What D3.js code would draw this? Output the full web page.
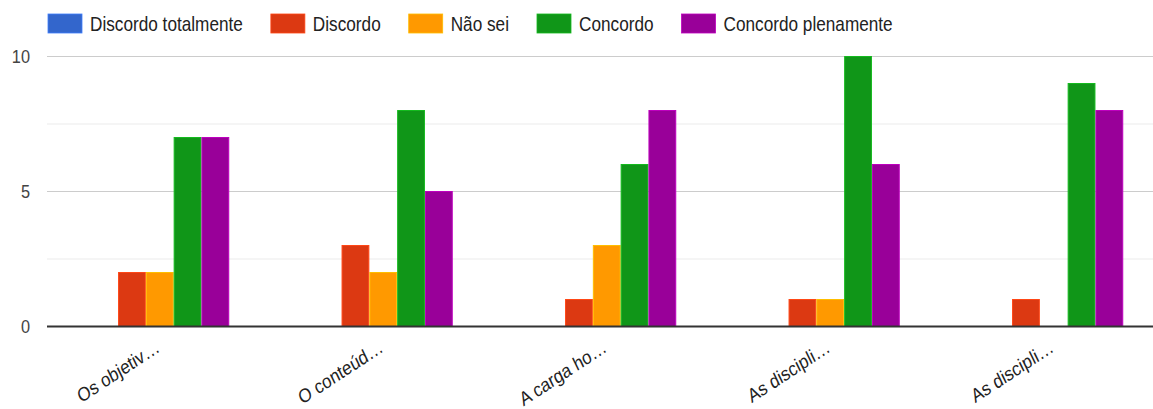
<!DOCTYPE html>
<html>
<head>
<meta charset="utf-8">
<script src="https://cdn.jsdelivr.net/npm/d3@7"></script>
<style>
  html, body { margin: 0; padding: 0; background: #fff; }
  svg { display: block; font-family: "Liberation Sans", Arial, sans-serif; }
</style>
</head>
<body>
<svg id="chart" width="1153" height="409"></svg>
<script>
// Survey answers per statement
const categories = ["Os objetiv…", "O conteúd…", "A carga ho…", "As discipli…", "As discipli…"];
const seriesNames = ["Discordo totalmente", "Discordo", "Não sei", "Concordo", "Concordo plenamente"];
const seriesColors = ["#3366cc", "#dc3912", "#ff9900", "#109618", "#990099"];
const discordoTotalmente = [0, 0, 0, 0, 0];
const discordo = [2, 3, 1, 1, 1];
const naoSei = [2, 2, 3, 1, 0];
const concordo = [7, 8, 6, 10, 9];
const concordoPlenamente = [7, 5, 8, 6, 8];
const yTicks = [0, 5, 10];
const yMinorTicks = [2.5, 7.5];

const series = [discordoTotalmente, discordo, naoSei, concordo, concordoPlenamente];
const rows = categories.map((c, i) => ({ idx: i, label: c, values: series.map(s => s[i]) }));

const svg = d3.select("#chart");
const plotLeft = 47, plotRight = 1153;
const squeeze = 0.86; // narrow text rendering

const x0 = d3.scaleBand().domain(d3.range(categories.length)).range([48, 1165.5]).paddingInner(0).paddingOuter(0);
const groupW = 139;
const x1 = d3.scaleBand().domain(d3.range(seriesNames.length)).range([0, groupW]).padding(0);
const y = d3.scaleLinear().domain([0, 10]).range([326.5, 56.5]);

// gridlines
svg.append("g").selectAll("line").data(yMinorTicks).join("line")
  .attr("x1", plotLeft).attr("x2", plotRight)
  .attr("y1", d => y(d)).attr("y2", d => y(d))
  .attr("stroke", "#ebebeb").attr("stroke-width", 1);
svg.append("g").selectAll("line").data(yTicks.filter(t => t !== 0)).join("line")
  .attr("x1", plotLeft).attr("x2", plotRight)
  .attr("y1", d => y(d)).attr("y2", d => y(d))
  .attr("stroke", "#cccccc").attr("stroke-width", 1);

// y tick labels
svg.append("g").selectAll("g").data(yTicks).join("g")
  .attr("transform", d => `translate(30,${y(d)}) scale(${squeeze},1)`)
  .append("text").attr("dy", "0.36em")
  .attr("text-anchor", "end").attr("font-size", 19).attr("fill", "#444")
  .text(d => d);

// bars
const groups = svg.append("g").selectAll("g").data(rows).join("g")
  .attr("transform", d => `translate(${x0(d.idx) + (x0.bandwidth() - groupW) / 2},0)`);
groups.selectAll("rect").data(d => d.values.map((v, k) => ({ v, k }))).join("rect")
  .filter(d => d.v > 0)
  .attr("x", d => x1(d.k) + 0.5)
  .attr("width", x1.bandwidth() - 1)
  .attr("y", d => y(d.v))
  .attr("height", d => y(0) - y(d.v))
  .attr("fill", d => seriesColors[d.k])
  .attr("stroke", d => d3.color(seriesColors[d.k]).brighter(0.6))
  .attr("stroke-width", 1);

// baseline
svg.append("line").attr("x1", plotLeft).attr("x2", plotRight)
  .attr("y1", y(0)).attr("y2", y(0)).attr("stroke", "#333").attr("stroke-width", 2);

// category labels
svg.append("g").selectAll("g").data(rows).join("g")
  .attr("transform", d => `translate(${x0(d.idx) + x0.bandwidth() / 2 + 1},${351}) scale(${squeeze},1) rotate(-29.5)`)
  .append("text")
  .attr("text-anchor", "end").attr("font-size", 19.5).attr("fill", "#222")
  .text(d => d.label);

// legend
const legend = svg.append("g");
let lx = 48;
seriesNames.forEach((name, k) => {
  legend.append("rect").attr("x", lx).attr("y", 14).attr("width", 34).attr("height", 19)
    .attr("fill", seriesColors[k])
    .attr("stroke", d3.color(seriesColors[k]).brighter(0.6)).attr("stroke-width", 0.8);
  const t = legend.append("g").attr("transform", `translate(${lx + 42},24) scale(${squeeze},1)`)
    .append("text").attr("dy", "0.36em")
    .attr("font-size", 20).attr("fill", "#222").text(name);
  lx += 42 + t.node().getComputedTextLength() * squeeze + 28;
});
</script>
</body>
</html>
